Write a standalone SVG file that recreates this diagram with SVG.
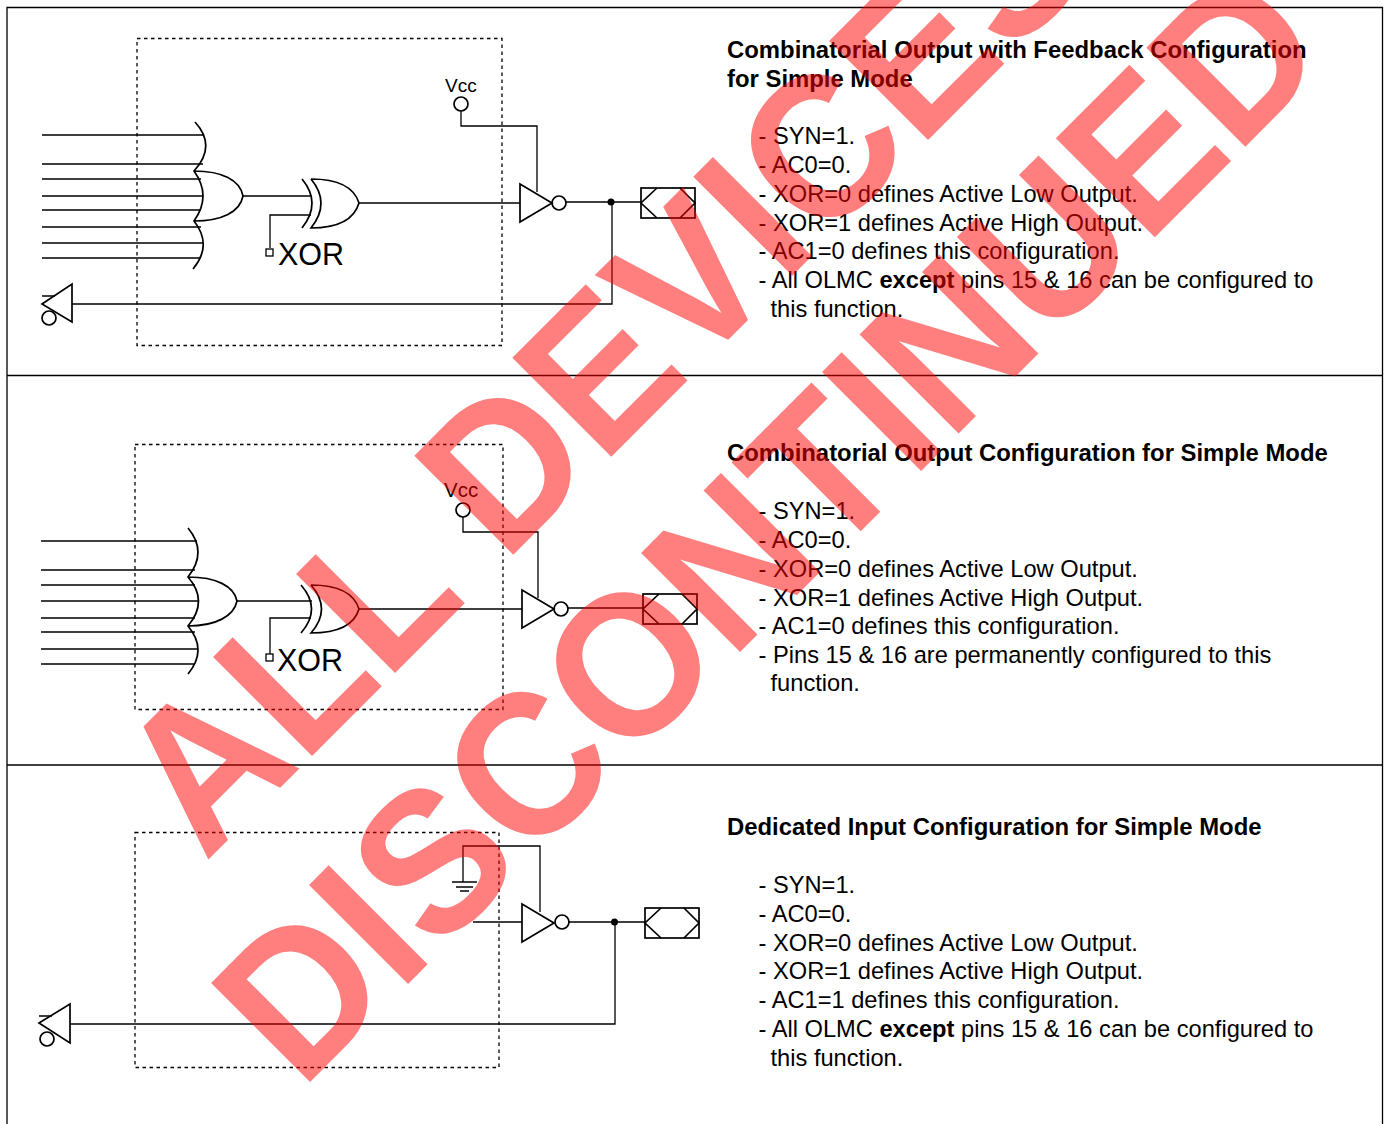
<svg xmlns="http://www.w3.org/2000/svg" width="1384" height="1124" viewBox="0 0 1384 1124">
<style>
.l{fill:none;stroke:#000;stroke-width:1.3}
.g{fill:none;stroke:#000;stroke-width:1.7}
.d{fill:none;stroke:#000;stroke-width:1.3;stroke-dasharray:3.500 3.500}
.t{font-family:"Liberation Sans",Arial,Helvetica,sans-serif;font-size:23.660px;fill:#000}
.b{font-weight:bold}
.h{font-size:23.880px}
.x{font-family:"Liberation Sans",Arial,Helvetica,sans-serif;font-size:30.500px;fill:#000}
.v{font-family:"Liberation Sans",Arial,Helvetica,sans-serif;font-size:19px;fill:#000}
.w{font-family:"Liberation Sans",Arial,Helvetica,sans-serif;font-size:192px;font-weight:bold;fill:#f00;fill-opacity:.5}
</style>
<rect width="1384" height="1124" fill="#fff"/>
<g id="frame" class="l"><path d="M7 1124V7.500H1382.500V1124M7 375.500H1382.500M7 765H1382.500"/></g>
<g id="connectors">
<path class="l" d="M42 135H203M42 164H203M42 179H201M42 196H203M42 210H201M42 227H201M42 243H203M42 258H200M243 196H312M270 248V215H311M359 203H520M461 111V126H537V192M566 202H641M612 202V304H72M42 296H55"/>
<path class="l" d="M41 541H197M41 570H195M41 585H195M41 601H199M41 618H195M41 632H195M41 649H198M41 664H195M237 601H312M270 654V618H311M359 609H522M463 517V532H538V598M568 608H643"/>
<path class="l" d="M463 882V846H540V912M473 922H522M569 922H645M615 922V1024H70M39 1016H52"/>
</g>
<g id="box1"><rect class="d" x="137" y="38.500" width="365" height="307"/></g>
<g id="box2"><rect class="d" x="135" y="444.500" width="368" height="265"/></g>
<g id="box3"><rect class="d" x="135" y="832.500" width="364" height="235"/></g>
<g id="or1" class="g"><path d="M195 122Q217 146 194 171Q212 196 194 221Q213 245 193 269M194 171C222 171 240 180 243 196C240 212 222 221 194 221"/></g>
<g id="xor1" class="g"><path d="M302 179Q322 203 302 228M311 179Q331 203 311 228C338 228 354 220 359 203C354 187 338 179 311 179"/><rect x="266" y="249" width="7" height="7" class="l"/></g>
<g id="xorlabel1"><text class="x" x="278" y="265">XOR</text></g>
<g id="vcc1"><text class="v" x="445" y="92">Vcc</text><circle class="g" cx="461" cy="104" r="7"/></g>
<g id="buf1" class="g"><path d="M520 184V222L552 203Z"/><circle cx="559" cy="203" r="7"/></g>
<g id="dot1"><circle cx="611" cy="202" r="3.500"/></g>
<g id="pin1" class="g"><rect x="641" y="188" width="54" height="30"/><path d="M657 188L641 203L657 218M680 188L695 203L680 218"/></g>
<g id="in1" class="g"><path d="M42 304L72 284V322Z"/><circle cx="49" cy="318" r="7"/></g>
<g id="text1">
<text class="t b h" x="727" y="58">Combinatorial Output with Feedback Configuration</text>
<text class="t b h" x="727" y="87">for Simple Mode</text>
<text class="t" x="758.500" y="144">- SYN=1.</text>
<text class="t" x="758.500" y="173">- AC0=0.</text>
<text class="t" x="758.500" y="202">- XOR=0 defines Active Low Output.</text>
<text class="t" x="758.500" y="231">- XOR=1 defines Active High Output.</text>
<text class="t" x="758.500" y="259">- AC1=0 defines this configuration.</text>
<text class="t" x="758.500" y="288">- All OLMC <tspan class="b">except</tspan> pins 15 &amp; 16 can be configured to</text>
<text class="t" x="770.500" y="317">this function.</text>
</g>
<g id="or2" class="g"><path d="M188 528Q208 552 188 577Q209 601 188 626Q208 650 188 674M188 577C216 577 234 586 237 601C234 616 216 626 188 626"/></g>
<g id="xor2" class="g"><path d="M301 585Q322 609 301 633M311 585Q332 609 311 633C338 633 354 626 359 609C354 593 338 585 311 585"/><rect x="266" y="654" width="7" height="7" class="l"/></g>
<g id="xorlabel2"><text class="x" x="277" y="671">XOR</text></g>
<g id="vcc2"><text class="v" x="444" y="497" style="font-size:20.500px">Vcc</text><circle class="g" cx="463" cy="510" r="7"/></g>
<g id="buf2" class="g"><path d="M522 590V628L554 609Z"/><circle cx="561" cy="609" r="7"/></g>
<g id="pin2" class="g"><rect x="643" y="594" width="54" height="30"/><path d="M659 594L643 609L659 624M682 594L697 609L682 624"/></g>
<g id="text2">
<text class="t b h" x="727" y="461">Combinatorial Output Configuration for Simple Mode</text>
<text class="t" x="758.500" y="519">- SYN=1.</text>
<text class="t" x="758.500" y="548">- AC0=0.</text>
<text class="t" x="758.500" y="577">- XOR=0 defines Active Low Output.</text>
<text class="t" x="758.500" y="606">- XOR=1 defines Active High Output.</text>
<text class="t" x="758.500" y="634">- AC1=0 defines this configuration.</text>
<text class="t" x="758.500" y="663">- Pins 15 &amp; 16 are permanently configured to this</text>
<text class="t" x="770.500" y="691">function.</text>
</g>
<g id="gnd3" class="g"><path d="M452 882H477M456 887H473M460 891H469"/></g>
<g id="buf3" class="g"><path d="M522 904V942L554 923Z"/><circle cx="562" cy="922" r="7"/></g>
<g id="dot3"><circle cx="614.500" cy="922" r="3.500"/></g>
<g id="pin3" class="g"><rect x="645" y="908" width="54" height="30"/><path d="M661 908L645 923L661 938M684 908L699 923L684 938"/></g>
<g id="in3" class="g"><path d="M39 1023L70 1004V1043Z"/><circle cx="47" cy="1039" r="7"/></g>
<g id="text3">
<text class="t b h" x="727" y="835">Dedicated Input Configuration for Simple Mode</text>
<text class="t" x="758.500" y="893">- SYN=1.</text>
<text class="t" x="758.500" y="922">- AC0=0.</text>
<text class="t" x="758.500" y="951">- XOR=0 defines Active Low Output.</text>
<text class="t" x="758.500" y="979">- XOR=1 defines Active High Output.</text>
<text class="t" x="758.500" y="1008">- AC1=1 defines this configuration.</text>
<text class="t" x="758.500" y="1037">- All OLMC <tspan class="b">except</tspan> pins 15 &amp; 16 can be configured to</text>
<text class="t" x="770.500" y="1066">this function.</text>
</g>
<g id="watermark">
<text class="w" transform="translate(205 863) rotate(-45) scale(1 1.06)">ALL DEVICES</text>
<text class="w" transform="translate(301 1091) rotate(-45) scale(1 1.06)">DISCONTINUED</text>
</g>
</svg>
